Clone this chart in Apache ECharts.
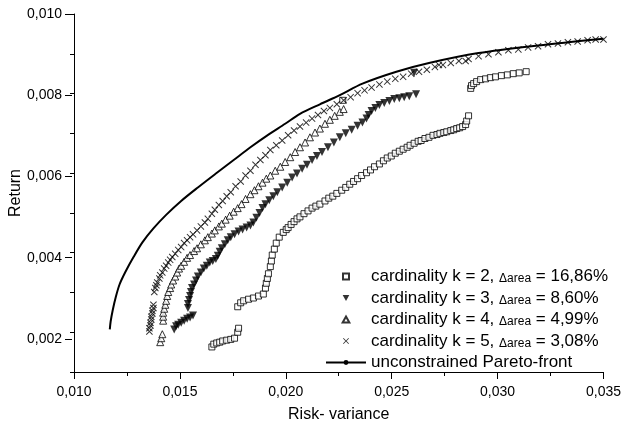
<!DOCTYPE html>
<html>
<head>
<meta charset="utf-8">
<script src="https://cdn.jsdelivr.net/npm/echarts@6/dist/echarts.min.js"></script>
<style>
  html, body { margin: 0; padding: 0; background: #fff; }
  #chart { width: 624px; height: 428px; }
</style>
</head>
<body>
<div id="chart"></div>
<script>
// values: [risk variance, return]
const paretoFront = [
  [0.01169, 0.00207], [0.01173, 0.00227], [0.01183, 0.00256], [0.01197, 0.00288],
  [0.01215, 0.00320], [0.01243, 0.00352], [0.01281, 0.00389], [0.01323, 0.00426],
  [0.01375, 0.00461], [0.01435, 0.00495], [0.01506, 0.00530], [0.01585, 0.00564],
  [0.01670, 0.00599], [0.01754, 0.00633], [0.01833, 0.00665], [0.01913, 0.00695],
  [0.01997, 0.00724], [0.02067, 0.00749], [0.02161, 0.00773], [0.02255, 0.00796],
  [0.02362, 0.00825], [0.02522, 0.00855], [0.02676, 0.00877], [0.02910, 0.00902],
  [0.03191, 0.00921], [0.03500, 0.00938]
];

const k2Points = [
  [0.01651, 0.00163], [0.01660, 0.00170], [0.01674, 0.00173], [0.01688, 0.00175],
  [0.01702, 0.00178], [0.01721, 0.00180], [0.01740, 0.00182], [0.01758, 0.00185],
  [0.01773, 0.00200], [0.01777, 0.00210],
  [0.01773, 0.00264], [0.01787, 0.00274], [0.01801, 0.00279], [0.01824, 0.00283],
  [0.01847, 0.00286], [0.01871, 0.00291], [0.01894, 0.00296], [0.01904, 0.00311],
  [0.01908, 0.00323], [0.01913, 0.00335], [0.01918, 0.00347], [0.01927, 0.00365],
  [0.01932, 0.00379], [0.01936, 0.00394], [0.01946, 0.00409], [0.01955, 0.00424],
  [0.01969, 0.00439], [0.01988, 0.00451], [0.02002, 0.00458], [0.02011, 0.00463],
  [0.02025, 0.00471], [0.02039, 0.00478], [0.02053, 0.00485], [0.02067, 0.00490],
  [0.02086, 0.00498], [0.02105, 0.00505], [0.02124, 0.00512], [0.02142, 0.00517],
  [0.02161, 0.00522], [0.02185, 0.00530], [0.02203, 0.00537], [0.02222, 0.00542],
  [0.02241, 0.00549], [0.02264, 0.00557], [0.02283, 0.00564], [0.02302, 0.00572],
  [0.02320, 0.00579], [0.02339, 0.00586], [0.02358, 0.00594], [0.02381, 0.00601],
  [0.02400, 0.00608], [0.02419, 0.00616], [0.02442, 0.00623], [0.02461, 0.00631],
  [0.02479, 0.00638], [0.02498, 0.00643], [0.02517, 0.00650], [0.02536, 0.00655],
  [0.02554, 0.00660], [0.02573, 0.00665], [0.02587, 0.00670], [0.02606, 0.00675],
  [0.02625, 0.00680], [0.02639, 0.00682], [0.02657, 0.00687], [0.02676, 0.00690],
  [0.02695, 0.00695], [0.02714, 0.00697], [0.02728, 0.00700], [0.02746, 0.00702],
  [0.02760, 0.00704], [0.02779, 0.00707], [0.02793, 0.00709], [0.02807, 0.00712],
  [0.02821, 0.00714], [0.02835, 0.00717], [0.02849, 0.00722], [0.02854, 0.00731],
  [0.02863, 0.00744],
  [0.02873, 0.00813], [0.02877, 0.00820], [0.02887, 0.00825], [0.02901, 0.00830],
  [0.02920, 0.00835], [0.02943, 0.00837], [0.02966, 0.00840], [0.02990, 0.00842],
  [0.03018, 0.00845], [0.03046, 0.00847], [0.03074, 0.00850], [0.03102, 0.00852],
  [0.03135, 0.00855],
  [0.02269, 0.00783]
];

const k3Points = [
  [0.01473, 0.00207], [0.01482, 0.00215], [0.01492, 0.00219], [0.01506, 0.00224],
  [0.01520, 0.00229], [0.01534, 0.00234], [0.01548, 0.00237], [0.01562, 0.00242],
  [0.01538, 0.00261], [0.01538, 0.00271], [0.01543, 0.00281], [0.01548, 0.00291],
  [0.01552, 0.00301], [0.01557, 0.00311], [0.01567, 0.00320], [0.01576, 0.00330],
  [0.01585, 0.00340], [0.01599, 0.00350], [0.01613, 0.00360], [0.01627, 0.00367],
  [0.01641, 0.00375], [0.01655, 0.00379], [0.01670, 0.00384], [0.01679, 0.00392],
  [0.01688, 0.00402], [0.01698, 0.00411], [0.01712, 0.00421], [0.01726, 0.00431],
  [0.01740, 0.00439], [0.01758, 0.00446], [0.01777, 0.00453], [0.01796, 0.00458],
  [0.01815, 0.00463], [0.01833, 0.00468], [0.01847, 0.00476], [0.01861, 0.00488],
  [0.01876, 0.00500], [0.01890, 0.00512], [0.01904, 0.00522], [0.01922, 0.00532],
  [0.01941, 0.00542], [0.01960, 0.00552], [0.01983, 0.00564], [0.02007, 0.00576],
  [0.02030, 0.00589], [0.02053, 0.00599], [0.02077, 0.00611], [0.02100, 0.00621],
  [0.02124, 0.00633], [0.02147, 0.00643], [0.02171, 0.00653], [0.02199, 0.00665],
  [0.02227, 0.00677], [0.02255, 0.00690], [0.02283, 0.00700], [0.02311, 0.00709],
  [0.02339, 0.00719], [0.02362, 0.00727], [0.02381, 0.00737], [0.02391, 0.00746],
  [0.02405, 0.00756], [0.02423, 0.00764], [0.02442, 0.00771], [0.02465, 0.00776],
  [0.02489, 0.00781], [0.02512, 0.00786], [0.02536, 0.00788], [0.02559, 0.00791],
  [0.02583, 0.00793], [0.02615, 0.00798],
  [0.02606, 0.00852]
];

const k4Points = [
  [0.01407, 0.00175], [0.01412, 0.00185], [0.01417, 0.00195],
  [0.01421, 0.00229], [0.01421, 0.00239], [0.01421, 0.00249], [0.01426, 0.00259],
  [0.01431, 0.00269], [0.01435, 0.00279], [0.01440, 0.00291], [0.01445, 0.00301],
  [0.01454, 0.00311], [0.01459, 0.00320], [0.01468, 0.00330], [0.01478, 0.00340],
  [0.01487, 0.00350], [0.01496, 0.00360], [0.01506, 0.00367], [0.01520, 0.00377],
  [0.01534, 0.00387], [0.01548, 0.00394], [0.01567, 0.00404], [0.01581, 0.00411],
  [0.01599, 0.00421], [0.01618, 0.00431], [0.01632, 0.00439], [0.01651, 0.00448],
  [0.01665, 0.00456], [0.01684, 0.00466], [0.01698, 0.00473], [0.01716, 0.00483],
  [0.01735, 0.00493], [0.01754, 0.00503], [0.01773, 0.00512], [0.01791, 0.00522],
  [0.01810, 0.00535], [0.01833, 0.00547], [0.01852, 0.00557], [0.01871, 0.00567],
  [0.01890, 0.00576], [0.01908, 0.00586], [0.01927, 0.00594], [0.01950, 0.00606],
  [0.01974, 0.00616], [0.01997, 0.00628], [0.02021, 0.00640], [0.02044, 0.00653],
  [0.02067, 0.00665], [0.02091, 0.00677], [0.02114, 0.00690], [0.02138, 0.00702],
  [0.02161, 0.00712], [0.02185, 0.00724], [0.02208, 0.00734], [0.02231, 0.00744],
  [0.02255, 0.00754], [0.02273, 0.00761]
];

const k5Points = [
  [0.01356, 0.00202], [0.01356, 0.00210], [0.01361, 0.00217], [0.01361, 0.00224],
  [0.01365, 0.00232], [0.01365, 0.00239], [0.01370, 0.00247], [0.01370, 0.00254],
  [0.01375, 0.00261], [0.01375, 0.00269],
  [0.01379, 0.00301], [0.01384, 0.00311], [0.01389, 0.00318], [0.01393, 0.00325],
  [0.01403, 0.00335], [0.01407, 0.00343], [0.01417, 0.00350], [0.01426, 0.00360],
  [0.01435, 0.00367], [0.01445, 0.00375], [0.01454, 0.00382], [0.01464, 0.00389],
  [0.01478, 0.00397], [0.01492, 0.00407], [0.01506, 0.00414], [0.01520, 0.00424],
  [0.01534, 0.00431], [0.01548, 0.00439], [0.01562, 0.00446], [0.01581, 0.00456],
  [0.01599, 0.00466], [0.01618, 0.00476], [0.01632, 0.00485], [0.01651, 0.00498],
  [0.01665, 0.00508], [0.01684, 0.00520], [0.01702, 0.00530], [0.01721, 0.00542],
  [0.01740, 0.00552], [0.01763, 0.00567], [0.01787, 0.00579], [0.01810, 0.00594],
  [0.01833, 0.00606], [0.01857, 0.00621], [0.01880, 0.00633], [0.01904, 0.00645],
  [0.01927, 0.00658], [0.01955, 0.00670], [0.01983, 0.00682], [0.02011, 0.00695],
  [0.02039, 0.00707], [0.02067, 0.00717], [0.02096, 0.00727], [0.02124, 0.00737],
  [0.02152, 0.00746], [0.02180, 0.00756], [0.02208, 0.00764], [0.02241, 0.00773],
  [0.02273, 0.00783], [0.02306, 0.00791], [0.02339, 0.00801], [0.02372, 0.00808],
  [0.02405, 0.00815], [0.02442, 0.00823], [0.02479, 0.00830], [0.02517, 0.00837],
  [0.02554, 0.00842], [0.02592, 0.00850], [0.02629, 0.00855], [0.02666, 0.00860],
  [0.02704, 0.00867], [0.02723, 0.00872], [0.02742, 0.00872], [0.02779, 0.00877],
  [0.02817, 0.00882], [0.02849, 0.00882], [0.02863, 0.00887], [0.02910, 0.00894],
  [0.02957, 0.00899], [0.03004, 0.00904], [0.03051, 0.00909], [0.03098, 0.00911],
  [0.03144, 0.00916], [0.03191, 0.00919], [0.03238, 0.00924], [0.03285, 0.00926],
  [0.03332, 0.00929], [0.03378, 0.00931], [0.03425, 0.00934], [0.03463, 0.00936],
  [0.03500, 0.00936]
];

const seriesNames = [
  'cardinality k = 2', 'cardinality k = 3', 'cardinality k = 4',
  'cardinality k = 5', 'unconstrained Pareto-front'
];
const areaDeltas = ['16,86%', '8,60%', '4,99%', '3,08%'];

const FONT = '"Liberation Sans", Arial, sans-serif';
const fmt = (v) => v.toFixed(3).replace('.', ',');

const black = '#000';
// path symbols keep their aspect in the legend too
const squarePath = 'path://M0,0L10,0L10,10L0,10Z';
const upTriangle = 'path://M5,0L10,9L0,9Z';
const downTriangle = 'path://M0,0L10,0L5,9Z';
const crossPath = 'path://M0,1L1,0L5,4L9,0L10,1L6,5L10,9L9,10L5,6L1,10L0,9L4,5Z';

const chart = echarts.init(document.getElementById('chart'), null, { renderer: 'canvas' });

chart.setOption({
  animation: false,
  backgroundColor: '#fff',
  textStyle: { fontFamily: FONT, color: black },
  grid: [
    { left: 72, right: 18, top: 14, height: 365.5 },
    { left: 72, right: 18, top: 14, height: 365.5 * 8 / 9 }
  ],
  xAxis: [
    {
      gridIndex: 0,
      type: 'value',
      min: 0.010,
      max: 0.035,
      interval: 0.005,
      name: 'Risk- variance',
      nameLocation: 'middle',
      nameGap: 35,
      nameTextStyle: { fontSize: 16, color: black, fontFamily: FONT },
      axisLine: { onZero: false, lineStyle: { color: black, width: 1 } },
      axisTick: { length: 7, lineStyle: { color: black } },
      minorTick: { show: true, splitNumber: 2, length: 4, lineStyle: { color: black } },
      axisLabel: { margin: 13, fontSize: 14, color: black, fontFamily: FONT, formatter: fmt },
      splitLine: { show: false }
    },
    { gridIndex: 1, type: 'value', min: 0.010, max: 0.035, show: false }
  ],
  yAxis: [
    {
      gridIndex: 0,
      type: 'value',
      min: 0.001,
      max: 0.010,
      interval: 0.001,
      name: 'Return',
      nameLocation: 'middle',
      nameGap: 50,
      nameTextStyle: { fontSize: 16, color: black, fontFamily: FONT },
      axisLine: { show: true, onZero: false, lineStyle: { color: black, width: 1 } },
      axisTick: { length: 4, lineStyle: { color: black } },
      axisLabel: { show: false },
      splitLine: { show: false }
    },
    {
      gridIndex: 1,
      type: 'value',
      min: 0.002,
      max: 0.010,
      interval: 0.002,
      axisLine: { show: false },
      axisTick: { show: true, length: 7, lineStyle: { color: black } },
      axisLabel: { margin: 10, fontSize: 14, color: black, fontFamily: FONT, formatter: fmt },
      splitLine: { show: false }
    }
  ],
  legend: {
    orient: 'vertical',
    left: 325,
    top: 268,
    padding: 0,
    itemWidth: 40,
    itemHeight: 6,
    itemGap: 4.5,
    data: seriesNames,
    textStyle: {
      fontFamily: FONT,
      fontSize: 17,
      lineHeight: 17,
      color: black,
      rich: {
        s: { fontFamily: FONT, fontSize: 12, lineHeight: 14, verticalAlign: 'bottom', color: black }
      }
    },
    formatter: (name) => {
      const i = seriesNames.indexOf(name);
      return i < 4 ? name + ', {s|\u0394area} = ' + areaDeltas[i] : name;
    }
  },
  series: [
    {
      name: seriesNames[0],
      type: 'scatter',
      data: k2Points,
      symbol: squarePath,
      symbolSize: 6,
      itemStyle: { color: '#fff', borderColor: black, borderWidth: 1 }
    },
    {
      name: seriesNames[1],
      type: 'scatter',
      data: k3Points,
      symbol: downTriangle,
      symbolSize: 8,
      itemStyle: { color: black }
    },
    {
      name: seriesNames[2],
      type: 'scatter',
      data: k4Points,
      symbol: upTriangle,
      symbolSize: 7,
      itemStyle: { color: '#fff', borderColor: black, borderWidth: 1 }
    },
    {
      name: seriesNames[3],
      type: 'scatter',
      data: k5Points,
      symbol: crossPath,
      symbolSize: 7,
      itemStyle: { color: black }
    },
    {
      name: seriesNames[4],
      type: 'line',
      data: paretoFront,
      symbol: 'none',
      smooth: 0.3,
      lineStyle: { color: black, width: 2 },
      itemStyle: { color: black }
    }
  ]
});
</script>
</body>
</html>
